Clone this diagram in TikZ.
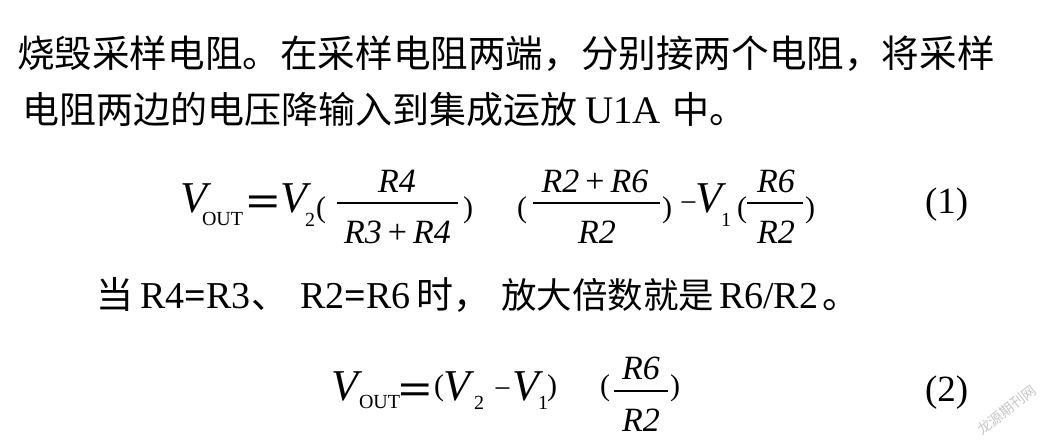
\documentclass[tikz,border=0pt]{standalone}
\usepackage{fontspec}
\setmainfont{Liberation Serif}
\newfontfamily\cjkf{Noto Sans CJK SC}
\newcommand\fsz[1]{\fontsize{#1}{#1}\selectfont}
\tikzset{
  txt/.style={anchor=base west, inner sep=0pt, outer sep=0pt, text=black},
  ctr/.style={anchor=base, inner sep=0pt, outer sep=0pt, text=black},
  fbar/.style={line width=2pt, black},
}
\begin{document}
\begin{tikzpicture}[x=1pt,y=-1pt]
\useasboundingbox[fill=white] (0,0) rectangle (1049,447);
% ---- paragraph lines ----
\node[txt] (l1) at (17,67) {\cjkf\fsz{37.6}烧毁采样电阻。在采样电阻两端，分别接两个电阻，将采样};
\node[txt] (l2a) at (22,123.5) {\cjkf\fsz{37}电阻两边的电压降输入到集成运放};
\node[txt] (l2b) at (585,123.5) {\fsz{39}U1A};
\node[txt] (l2c) at (672,123.5) {\cjkf\fsz{37}中。};
% ---- equation (1) ----
\node[txt] (e1v) at (180,212) {\fsz{44}\itshape V};
\node[txt] (e1out) at (202,225) {\fsz{20}OUT};
\node[txt] (e1eq) at (246,216) {\fsz{44}\scalebox{1.35}[1]{\bfseries =}};
\node[txt] (e1v2) at (280,212) {\fsz{44}\itshape V};
\node[txt] (e1s2) at (305,226) {\fsz{20}2};
\node[txt] (e1p1) at (316,217) {\fsz{30}(};
\draw[fbar] (337,203) -- (458,203);
\node[ctr] (e1n1) at (397,192) {\fsz{34}\itshape R4};
\node[ctr] (e1d1) at (397.5,243) {\fsz{34}\itshape R3\hspace{6pt}\upshape+\hspace{6pt}\itshape R4};
\node[txt] (e1p2) at (463,217) {\fsz{30})};
\node[txt] (e1p3) at (517,217) {\fsz{30}(};
\draw[fbar] (533,203) -- (660,203);
\node[ctr] (e1n2) at (595,192) {\fsz{34}\itshape R2\hspace{6pt}\upshape+\hspace{6pt}\itshape R6};
\node[ctr] (e1d2) at (597,243) {\fsz{34}\itshape R2};
\node[txt] (e1p4) at (662,217) {\fsz{30})};
\node[txt] (e1mi) at (680,212) {\fsz{30}−};
\node[txt] (e1v1) at (695,212) {\fsz{44}\itshape V};
\node[txt] (e1s1) at (721,226) {\fsz{20}1};
\node[txt] (e1p5) at (737,217) {\fsz{30}(};
\draw[fbar] (747,203) -- (803,203);
\node[ctr] (e1n3) at (776,192) {\fsz{34}\itshape R6};
\node[ctr] (e1d3) at (776,243) {\fsz{34}\itshape R2};
\node[txt] (e1p6) at (805,217) {\fsz{30})};
\node[txt] (e1no) at (925,213) {\fsz{37}(1)};
% ---- line 3 ----
\node[txt] (l3a) at (96,308) {\cjkf\fsz{37}当};
\node[txt] (l3b) at (140,308) {\fsz{38}R4\textbf{=}R3};
\node[txt] (l3c) at (251,308) {\cjkf\fsz{37}、};
\node[txt] (l3d) at (300,308) {\fsz{38}R2\textbf{=}R6};
\node[txt] (l3e) at (416,308) {\cjkf\fsz{37}时，};
\node[txt] (l3f) at (501,308) {\cjkf\fsz{35.5}放大倍数就是};
\node[txt] (l3g) at (719,308) {\fsz{38}R6/R2};
\node[txt] (l3h) at (822,308) {\cjkf\fsz{37}。};
% ---- equation (2) ----
\node[txt] (e2v) at (331,400) {\fsz{44}\itshape V};
\node[txt] (e2out) at (359,408) {\fsz{20}OUT};
\node[txt] (e2eq) at (398,404) {\fsz{44}\scalebox{1.35}[1]{\bfseries =}};
\node[txt] (e2p1) at (434,395) {\fsz{30}(};
\node[txt] (e2v2) at (443,400) {\fsz{44}\itshape V};
\node[txt] (e2s2) at (474,409) {\fsz{20}2};
\node[txt] (e2mi) at (494,398) {\fsz{30}−};
\node[txt] (e2v1) at (512,400) {\fsz{44}\itshape V};
\node[txt] (e2s1) at (538,409) {\fsz{20}1};
\node[txt] (e2p2) at (547,395) {\fsz{30})};
\node[txt] (e2p3) at (600,395) {\fsz{30}(};
\draw[fbar] (614,391) -- (668,391);
\node[ctr] (e2n) at (641,379) {\fsz{34}\itshape R6};
\node[ctr] (e2d) at (641,431) {\fsz{34}\itshape R2};
\node[txt] (e2p4) at (670,395) {\fsz{30})};
\node[txt] (e2no) at (925,401) {\fsz{37}(2)};
% ---- watermark ----
\node[anchor=center, inner sep=0pt, rotate=38, text=black!22] (wm) at (1007,410) {\cjkf\fsz{14}龙源期刊网};
\end{tikzpicture}
\end{document}
